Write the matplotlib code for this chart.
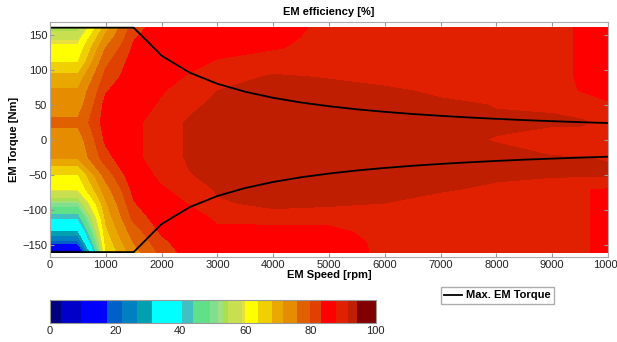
import numpy as np
import matplotlib
matplotlib.use('Agg')
from matplotlib import pyplot as plt

plt.rcParams['font.family'] = ['Liberation Sans', 'DejaVu Sans']

# grid of the efficiency map
speed = [0, 500, 1000, 1500, 2000, 2500, 3000, 4000, 5000, 6000, 7000,
         8000, 9000, 9500, 10000]
torque = [-160, -145, -130, -110, -90, -70, -50, -25, 0, 25, 50, 70, 90,
          110, 130, 145, 160]

# efficiency [%], one list per speed column, bottom (-160 Nm) to top (160 Nm)
eff_0 = [5, 21, 31, 41.5, 51.5, 60, 63.5, 72, 73.5, 76.5, 73.5, 72, 69, 64, 61, 58, 53]
eff_500 = [5, 21, 31, 41.5, 51.5, 60, 63.5, 72, 73.5, 76.5, 73.5, 72, 69, 64, 61, 58, 53]
eff_1000 = [64, 65.5, 67, 69, 71, 74, 77.5, 82, 84, 85, 84.5, 83, 81, 79, 76, 73, 70]
eff_1500 = [74, 76, 78, 81, 83, 84.5, 86, 87, 87, 87, 86.5, 86, 85.5, 85, 84, 83, 82]
eff_2000 = [81, 82.5, 84, 85.5, 86.5, 87.5, 88.5, 89.5, 89.5, 89.5, 88.2, 87.6, 87.3, 87, 86.5, 86, 85]
eff_2500 = [85, 85.5, 86, 87, 88, 89, 91.3, 92, 92, 92, 90.5, 89, 88, 87.5, 87, 86.5, 86]
eff_3000 = [86, 86.5, 87.5, 88.2, 91, 92, 92.5, 93, 93, 93, 92.5, 91.5, 89.5, 88, 87.5, 87, 86.5]
eff_4000 = [86.5, 86.8, 86, 90, 92.5, 93, 93.5, 93.5, 93.5, 93.5, 93.5, 93, 92, 89, 87.7, 87.3, 87]
eff_5000 = [86.8, 87, 87.5, 88.4, 92.5, 93, 93.5, 93.5, 93.5, 93.5, 93.5, 93, 91.2, 89.5, 88.6, 88.5, 88.4]
eff_6000 = [88.3, 88.3, 88.4, 89.5, 91.5, 92.5, 93, 93, 92.5, 93, 93, 92, 90.5, 89.5, 89, 89, 89]
eff_7000 = [88.8, 88.8, 89, 89.5, 90.5, 91.8, 92.5, 92.5, 92, 92.5, 92, 91, 90, 89.5, 89, 89, 89]
eff_8000 = [89, 89, 89, 89.5, 90, 91, 92, 92, 91.4, 91.8, 91.4, 90, 89.5, 89, 89, 89, 89]
eff_9000 = [89, 89, 89, 89, 89.5, 90.5, 91.7, 91.6, 90.5, 91.8, 91.2, 89.5, 89, 89, 89, 89, 89]
eff_9500 = [88.1, 88.1, 88.1, 88.1, 88.1, 88.1, 92, 91.6, 90, 92, 89.5, 87.7, 87.5, 87.5, 87.5, 87.5, 87.5]
eff_10000 = [87.5, 87.5, 87.5, 87.5, 87.5, 87.5, 92, 91.3, 90, 90.5, 88.1, 87, 87, 87, 87, 87, 87]

# max torque envelope
line_speed = [0, 500, 1000, 1500, 2000, 2500, 3000, 3500, 4000, 4500, 5000,
              5500, 6000, 6500, 7000, 7500, 8000, 8500, 9000, 9500, 10000]
line_torque = [160, 160, 160, 160, 120, 96, 80, 68.6, 60, 53.3, 48, 43.6,
               40, 36.9, 34.3, 32, 30, 28.2, 26.7, 25.3, 24]

# contour levels / colours of the colour bar
levels = [0, 3.4, 9.5, 17.4, 22, 26.6, 31.2, 40.4, 44, 49, 51.6, 53.2, 54.7,
          58.8, 59.8, 63.9, 68, 71.6, 75.7, 79.8, 83.3, 87.9, 91.5, 94.1, 100]
colors = ['#000080', '#0000C8', '#0000FF', '#0060C8', '#0080C0', '#00A0B0',
          '#00FFFF', '#40C0C0', '#60E088', '#80E090', '#A0E080', '#A8E050',
          '#C8E050', '#E8E040', '#FFFF00', '#F0D000', '#E8A800', '#E68C00',
          '#E06000', '#E04000', '#FF0000', '#E02000', '#C01E00', '#800000']

Z = np.array([eff_0, eff_500, eff_1000, eff_1500, eff_2000, eff_2500,
              eff_3000, eff_4000, eff_5000, eff_6000, eff_7000, eff_8000,
              eff_9000, eff_9500, eff_10000]).T

fig = plt.figure(figsize=(6.17, 3.42), dpi=100)
ax = fig.add_axes([0.081, 0.2485, 0.9044, 0.687])

cs = ax.contourf(speed, torque, Z, levels=levels, colors=colors)
ln, = ax.plot(line_speed, line_torque, color='black', lw=1.3,
              label='Max. EM Torque')
ax.plot(line_speed, [-t for t in line_torque], color='black', lw=1.3)

ax.set_xlim(0, 10000)
ax.set_ylim(-167, 168)
ax.set_xticks(range(0, 10001, 1000))
ax.set_yticks(range(-150, 151, 50))
ax.tick_params(direction='in', top=True, right=True, length=3,
               color='#999999', labelsize=8, labelcolor='#222222', pad=2)
for s in ax.spines.values():
    s.set_color('#aaaaaa')
    s.set_linewidth(0.8)

ax.set_title('EM efficiency [%]', fontsize=8, fontweight='bold', pad=5)
ax.set_xlabel('EM Speed [rpm]', fontsize=8, fontweight='bold', labelpad=0)
ax.set_ylabel('EM Torque [Nm]', fontsize=8, fontweight='bold', labelpad=2)

cax = fig.add_axes([0.081, 0.0556, 0.528, 0.0673])
cb = fig.colorbar(cs, cax=cax, orientation='horizontal', spacing='proportional',
                  ticks=[0, 20, 40, 60, 80, 100])
cb.outline.set_edgecolor('#999999')
cb.outline.set_linewidth(0.8)
cax.tick_params(labelsize=8, length=0, pad=2, labelcolor='#222222')

fig.legend(handles=[ln], loc='center', bbox_to_anchor=(0.806, 0.136),
           fontsize=8, prop={'weight': 'bold', 'size': 8}, frameon=True,
           fancybox=False, edgecolor='#999999', handlelength=1.6,
           handletextpad=0.3, borderpad=0.3, borderaxespad=0)

fig.savefig('out.png', dpi=100)
